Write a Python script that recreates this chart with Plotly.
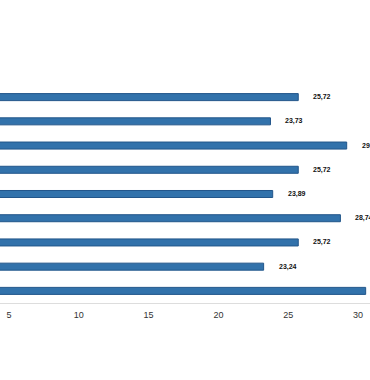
import plotly.graph_objects as go

categories = ["A", "B", "C", "D", "E", "F", "G", "H", "I"]
values = [25.72, 23.73, 29.19, 25.72, 23.89, 28.74, 25.72, 23.24, 30.55]
tick_vals = [5, 10, 15, 20, 25, 30]
tick_text = ["5", "10", "15", "20", "25", "30"]

labels = [f"{v:.2f}".replace(".", ",") for v in values]

fig = go.Figure()
fig.add_trace(go.Bar(
    y=categories,
    x=values,
    orientation="h",
    width=0.29,
    marker=dict(color="#3272ab", line=dict(color="#22568a", width=1)),
    hoverinfo="skip",
))

annotations = []
for c, v, t in zip(categories, values, labels):
    annotations.append(dict(
        x=v, y=c, xref="x", yref="y", text="<b>" + t + "</b>", showarrow=False,
        xanchor="left", yanchor="middle", xshift=13,
        font=dict(family="Liberation Sans, Arial, sans-serif", size=7, color="#111111"),
    ))

fig.update_layout(
    width=370, height=380,
    margin=dict(l=0, r=0, t=84.5, b=77, pad=0),
    paper_bgcolor="white", plot_bgcolor="white",
    showlegend=False,
    separators=",.",
    annotations=annotations,
    xaxis=dict(
        range=[4.355, 30.86],
        tickmode="array", tickvals=tick_vals, ticktext=tick_text,
        showgrid=False, zeroline=False,
        showline=True, linecolor="#dddddd", linewidth=1,
        ticks="", ticklabelstandoff=3,
        tickfont=dict(family="Liberation Sans, Arial, sans-serif", size=9, color="#333333"),
        fixedrange=True,
    ),
    yaxis=dict(
        range=[8.5, -0.5], type="category",
        showticklabels=False, showgrid=False, zeroline=False, showline=False,
        ticks="", fixedrange=True,
    ),
)

fig.write_html(
    "out.html",
    config={"displayModeBar": False},
    post_script="document.body.style.margin='0';document.body.style.overflow='hidden';",
)
